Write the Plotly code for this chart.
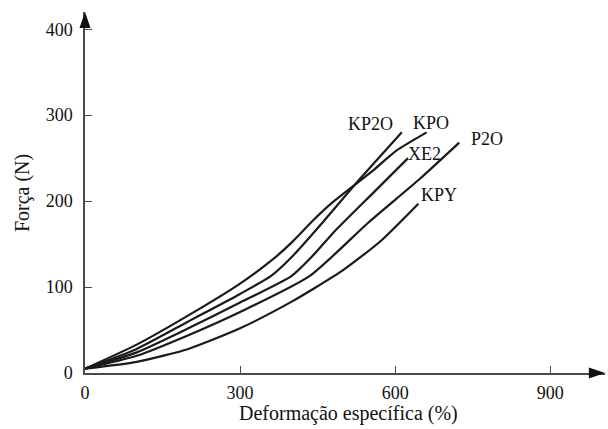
import plotly.graph_objects as go

# Data (deformação específica %, força N)
series_names = ["KPO", "KP2O", "XE2", "P2O", "KPY"]
kpo_x = [0, 100, 200, 300, 365, 400, 442, 480, 522, 560, 603, 661]
kpo_y = [5, 33, 67, 104, 133, 152, 178, 199, 219, 237, 259, 280]
kp2o_x = [0, 100, 200, 300, 360, 400, 461, 522, 613]
kp2o_y = [5, 28, 60, 92, 113, 135, 176, 219, 280]
xe2_x = [0, 100, 200, 300, 400, 440, 480, 560, 625]
xe2_y = [5, 24, 52, 82, 113, 136, 163, 211, 250]
p2o_x = [0, 100, 200, 300, 435, 550, 648, 724]
p2o_y = [5, 20, 44, 71, 113, 176, 226, 268]
kpy_x = [0, 100, 200, 300, 400, 442, 500, 571, 645]
kpy_y = [5, 13, 28, 52, 83, 98, 120, 153, 197]

x_ticks = [0, 300, 600, 900]
y_ticks = [0, 100, 200, 300, 400]
x_title = "Deformação específica (%)"
y_title = "Força (N)"

all_x = [kpo_x, kp2o_x, xe2_x, p2o_x, kpy_x]
all_y = [kpo_y, kp2o_y, xe2_y, p2o_y, kpy_y]
# label pixel offsets relative to each curve end
label_shift = [(4, 9), (-31, 8), (16, 4), (28, 4), (21, 9)]

FONT = "Liberation Serif, Times New Roman, serif"
LINE = "#1a1a1a"
AX = "#4a4a4a"

fig = go.Figure()
for name, xs, ys in zip(series_names, all_x, all_y):
    fig.add_trace(go.Scatter(x=xs, y=ys, mode="lines", name=name,
                             line=dict(color=LINE, width=2.2, shape="spline", smoothing=0.6)))

for name, xs, ys, (dx, dy) in zip(series_names, all_x, all_y, label_shift):
    fig.add_annotation(x=xs[-1], y=ys[-1], text=name, showarrow=False,
                       xshift=dx, yshift=dy, font=dict(family=FONT, size=18, color="#111"))

# axis titles
fig.add_annotation(xref="paper", yref="paper", x=0.506, y=-0.113, text=x_title,
                   xanchor="center", yanchor="middle",
                   showarrow=False, font=dict(family=FONT, size=20, color="#111"))
fig.add_annotation(xref="paper", yref="paper", x=-0.121, y=0.4986, text=y_title,
                   xanchor="center", yanchor="middle",
                   textangle=-90, showarrow=False, font=dict(family=FONT, size=20, color="#111"))

# arrow heads at the axis ends (paper coordinates)
fig.add_shape(type="path", xref="paper", yref="paper",
              path="M 1,0 L 0.969,0.0152 L 0.969,-0.0152 Z", fillcolor="#111", line=dict(width=0))
fig.add_shape(type="path", xref="paper", yref="paper",
              path="M 0,1 L -0.0106,0.956 L 0.0106,0.956 Z", fillcolor="#111", line=dict(width=0))

fig.update_layout(
    width=608, height=429,
    margin=dict(l=85, r=3, t=12, b=56),
    paper_bgcolor="white", plot_bgcolor="white",
    showlegend=False,
    font=dict(family=FONT, size=18, color="#111"),
    xaxis=dict(range=[0, 1006], tickvals=x_ticks, ticks="inside", ticklen=7,
               tickcolor=AX, showline=True, linecolor=AX, linewidth=1.5,
               showgrid=False, zeroline=False, ticklabelstandoff=3, automargin=False),
    yaxis=dict(range=[0, 420], tickvals=y_ticks, ticks="inside", ticklen=7,
               tickcolor=AX, showline=True, linecolor=AX, linewidth=1.5,
               showgrid=False, zeroline=False, ticklabelstandoff=7, automargin=False),
)

fig.write_html("out.html", config={"displayModeBar": False},
               post_script="document.body.style.margin='0';document.body.style.overflow='hidden';")
